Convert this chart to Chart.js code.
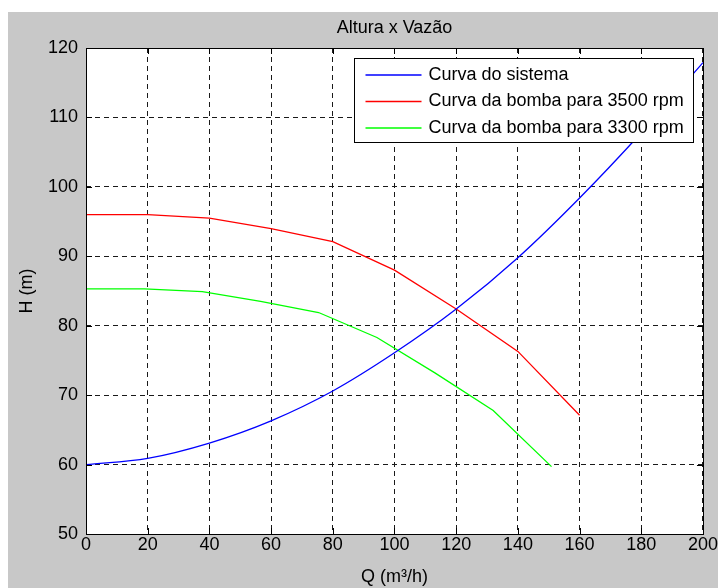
<!DOCTYPE html>
<html lang="pt-BR">

<head>
    <meta charset="UTF-8">
    <script src="https://cdn.jsdelivr.net/npm/chart.js"></script>
    <title>Altura x Vazão</title>
    <style>
        body { margin: 0; background: #ffffff; }
        #divGrafico { position: absolute; left: 8px; top: 12px; width: 710px; height: 576px; }
    </style>
</head>

<body>
    <div id="divGrafico">
        <canvas id="graficoCurvas" width="710" height="576"></canvas>
    </div>
</body>

</html>

<script>
    // dados
    const vazaoSistema = [0, 20, 40, 60, 80, 100, 120, 140, 160, 180, 200]
    const alturaSistema = [60, 60.9, 63.1, 66.3, 70.6, 76.1, 82.4, 89.8, 98.4, 107.8, 117.9]

    const vazaoBomba3500 = [0, 20, 40, 60, 80, 100, 120, 140, 160]
    const alturaBomba3500 = [96.0, 96.0, 95.5, 94.0, 92.1, 88.0, 82.4, 76.3, 67.1]

    const vazaoBomba3300 = [0, 18.9, 37.7, 56.6, 75.4, 94.3, 113.1, 132.0, 150.9]
    const alturaBomba3300 = [85.3, 85.3, 84.9, 83.5, 81.9, 78.3, 73.2, 67.8, 59.7]

    const legendas = ['Curva do sistema', 'Curva da bomba para 3500 rpm', 'Curva da bomba para 3300 rpm']
    const cores = ['#0000ff', '#ff0000', '#00ff00']

    const ticksX = [0, 20, 40, 60, 80, 100, 120, 140, 160, 180, 200]
    const ticksY = [50, 60, 70, 80, 90, 100, 110, 120]

    const fonte = '"Liberation Sans", Arial, sans-serif'

    function juntar(xs, ys) {
        return xs.map((x, i) => ({ x: x, y: ys[i] }))
    }

    // fundo cinza + area branca
    const fundo = {
        id: 'fundo',
        beforeDraw(chart) {
            const ctx = chart.ctx
            const a = chart.chartArea
            ctx.save()
            ctx.fillStyle = '#c8c8c8'
            ctx.fillRect(0, 0, chart.width, chart.height)
            ctx.fillStyle = '#ffffff'
            ctx.fillRect(a.left, a.top, a.right - a.left, a.bottom - a.top)
            ctx.restore()
        }
    }

    // moldura e tracinhos para dentro (estilo matlab)
    const moldura = {
        id: 'moldura',
        afterDatasetsDraw(chart) {
            const ctx = chart.ctx
            const a = chart.chartArea
            const sx = chart.scales.x
            const sy = chart.scales.y
            ctx.save()
            ctx.strokeStyle = '#000000'
            ctx.lineWidth = 1
            ctx.beginPath()
            ticksX.forEach(v => {
                const px = Math.round(sx.getPixelForValue(v)) + 0.5
                ctx.moveTo(px, a.bottom); ctx.lineTo(px, a.bottom - 6)
                ctx.moveTo(px, a.top); ctx.lineTo(px, a.top + 6)
            })
            ticksY.forEach(v => {
                const py = Math.round(sy.getPixelForValue(v)) + 0.5
                ctx.moveTo(a.left, py); ctx.lineTo(a.left + 6, py)
                ctx.moveTo(a.right, py); ctx.lineTo(a.right - 6, py)
            })
            ctx.stroke()
            ctx.strokeRect(Math.round(a.left) + 0.5, Math.round(a.top) + 0.5,
                Math.round(a.right - a.left), Math.round(a.bottom - a.top))
            ctx.restore()
        }
    }

    // legenda dentro do grafico
    const legendaCaixa = {
        id: 'legendaCaixa',
        afterDraw(chart) {
            const ctx = chart.ctx
            const a = chart.chartArea
            const x0 = Math.round(a.right) - 348.5
            const y0 = Math.round(a.top) + 10.5
            ctx.save()
            ctx.fillStyle = '#ffffff'
            ctx.fillRect(x0, y0, 339, 84)
            ctx.strokeStyle = '#000000'
            ctx.lineWidth = 1
            ctx.strokeRect(x0, y0, 339, 84)
            ctx.font = '18px ' + fonte
            ctx.textBaseline = 'middle'
            chart.data.datasets.forEach((ds, i) => {
                const yy = y0 + 16.5 + i * 26.5
                ctx.strokeStyle = ds.borderColor
                ctx.lineWidth = 1.3
                ctx.beginPath()
                ctx.moveTo(x0 + 11, yy)
                ctx.lineTo(x0 + 67, yy)
                ctx.stroke()
                ctx.fillStyle = '#000000'
                ctx.fillText(ds.label, x0 + 74, yy)
            })
            ctx.restore()
        }
    }

    new Chart(graficoCurvas, {
        type: 'line',
        data: {
            datasets: [{
                label: legendas[0],
                data: juntar(vazaoSistema, alturaSistema),
                borderColor: cores[0],
                cubicInterpolationMode: 'monotone'
            }, {
                label: legendas[1],
                data: juntar(vazaoBomba3500, alturaBomba3500),
                borderColor: cores[1],
                tension: 0
            }, {
                label: legendas[2],
                data: juntar(vazaoBomba3300, alturaBomba3300),
                borderColor: cores[2],
                tension: 0
            }]
        },
        options: {
            responsive: false,
            animation: false,
            devicePixelRatio: 1,
            layout: { padding: { left: 0, top: 0, right: 15, bottom: 0 } },
            elements: {
                point: { radius: 0 },
                line: { borderWidth: 1.3 }
            },
            plugins: {
                legend: { display: false },
                tooltip: { enabled: false },
                title: {
                    display: true,
                    text: 'Altura x Vazão',
                    fullSize: false,
                    color: '#000000',
                    font: { family: fonte, size: 18, weight: 'normal' },
                    padding: { top: 5.4, bottom: 9 }
                }
            },
            scales: {
                x: {
                    type: 'linear',
                    min: 0,
                    max: 200,
                    afterFit(scale) { scale.height = 54 },
                    afterBuildTicks(scale) { scale.ticks = ticksX.map(v => ({ value: v })) },
                    ticks: { color: '#000000', font: { family: fonte, size: 18 }, padding: 0, maxRotation: 0 },
                    grid: { color: '#1a1a1a', lineWidth: 1, drawTicks: false },
                    border: { display: false, dash: [5, 4] },
                    title: {
                        display: true,
                        text: 'Q (m³/h)',
                        color: '#000000',
                        font: { family: fonte, size: 18 },
                        padding: { top: 0, bottom: 0 }
                    }
                },
                y: {
                    type: 'linear',
                    min: 50,
                    max: 120,
                    afterFit(scale) { scale.width = 78 },
                    afterBuildTicks(scale) { scale.ticks = ticksY.map(v => ({ value: v })) },
                    ticks: { color: '#000000', font: { family: fonte, size: 18 }, padding: 8 },
                    grid: { color: '#1a1a1a', lineWidth: 1, drawTicks: false },
                    border: { display: false, dash: [5, 4] },
                    title: {
                        display: true,
                        text: 'H (m)',
                        color: '#000000',
                        font: { family: fonte, size: 18 },
                        padding: { top: 8, bottom: 0 }
                    }
                }
            }
        },
        plugins: [fundo, moldura, legendaCaixa]
    });
</script>
